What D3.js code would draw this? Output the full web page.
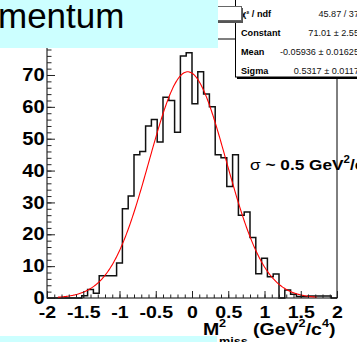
<!DOCTYPE html>
<html>
<head>
<meta charset="utf-8">
<script src="https://cdn.jsdelivr.net/npm/d3@7"></script>
<style>
  body { margin: 0; background: #fff; }
  svg { display: block; font-family: Arial, "Liberation Sans", Helvetica, sans-serif; }
</style>
</head>
<body>
<svg id="chart" width="357" height="342"></svg>
<script>
// histogram: 50 bins of 0.08 from -2 to 2
const binLow = -2;
const binWidth = 0.08;
const counts = [0, 0, 0, 0, 0, 0, 0.7, 2.7, 1.5, 7,
                7, 7, 11, 28, 32, 45, 46, 54, 56, 49,
                63, 62, 52, 76, 77, 61, 71, 64, 60, 45,
                44, 35, 45, 26, 27, 19, 7.6, 12.5, 6.7, 7.5,
                0, 2.5, 1.2, 0.5, 0.5, 0.6, 0.6, 0.6, 0.6, 0];

// gaussian fit, as given in the stats box
const fitConstant = 71.01;
const fitMean = -0.05936;
const fitSigma = 0.5317;
const fitRange = [-1.85, 1.72];

const statLabels = ['\u03c7\u00b2 / ndf', 'Constant', 'Mean', 'Sigma'];
const statValues = ['45.87 / 37', '71.01 \u00b1 2.55', '-0.05936 \u00b1 0.01625', '0.5317 \u00b1 0.0117'];

const xMajor = [-2, -1.5, -1, -0.5, 0, 0.5, 1, 1.5, 2];
const xLabels = ['-2', '-1.5', '-1', '-0.5', '0', '0.5', '1', '1.5', '2'];
const yMajor = [0, 10, 20, 30, 40, 50, 60, 70];

const svg = d3.select('#chart');
const stretch = 1.15;

const x = d3.scaleLinear().domain([-2, 2]).range([47, 337]);
const y = d3.scaleLinear().domain([0, 81.3]).range([298, 39]);

// frame
svg.append('rect')
  .attr('x', 47).attr('y', 39)
  .attr('width', 290).attr('height', 259)
  .attr('fill', 'none').attr('stroke', '#000').attr('stroke-width', 1);

// histogram outline
const pts = counts.map((c, i) => [binLow + i * binWidth, c]);
pts.push([binLow + counts.length * binWidth, counts[counts.length - 1]]);
const step = d3.line()
  .x(d => x(d[0]))
  .y(d => y(d[1]))
  .curve(d3.curveStepAfter);
svg.append('path')
  .attr('d', step(pts))
  .attr('fill', 'none')
  .attr('stroke', '#111')
  .attr('stroke-width', 1.5);

// fit curve
const gaus = v => fitConstant * Math.exp(-0.5 * Math.pow((v - fitMean) / fitSigma, 2));
const fitPts = d3.range(fitRange[0], fitRange[1] + 1e-9, 0.01).map(v => [v, gaus(v)]);
svg.append('path')
  .attr('d', d3.line().x(d => x(d[0])).y(d => y(d[1]))(fitPts))
  .attr('fill', 'none')
  .attr('stroke', '#ff0000')
  .attr('stroke-width', 1.1);

// x axis
const xMinor = svg.append('g')
  .attr('transform', 'translate(0,298)')
  .call(d3.axisBottom(x).tickValues(d3.range(-20, 21).map(d => d / 10)).tickSize(-3.5).tickFormat(''));
xMinor.select('.domain').remove();

const xAxis = svg.append('g')
  .attr('transform', 'translate(0,298)')
  .call(d3.axisBottom(x).tickValues(xMajor).tickSize(-7).tickPadding(8)
    .tickFormat((d, i) => xLabels[i]));
xAxis.select('.domain').remove();
xAxis.selectAll('text')
  .attr('font-size', 17).attr('font-weight', 'bold').attr('fill', '#000')
  .attr('transform', `scale(${stretch},1)`);

// y axis
const yMinor = svg.append('g')
  .attr('transform', 'translate(47,0)')
  .call(d3.axisLeft(y).tickValues(d3.range(0, 81, 2)).tickSize(-4.5).tickFormat(''));
yMinor.select('.domain').remove();

const yAxis = svg.append('g')
  .attr('transform', 'translate(47,0)')
  .call(d3.axisLeft(y).tickValues(yMajor).tickSize(-8).tickPadding(2));
yAxis.select('.domain').remove();
yAxis.selectAll('text')
  .attr('font-size', 17.5).attr('font-weight', 'bold').attr('fill', '#000')
  .attr('transform', `scale(${stretch},1)`);

svg.selectAll('.tick line').attr('stroke', '#222');

// axis title
const t = svg.append('g').attr('font-weight', 'bold').attr('fill', '#000');
t.append('text').attr('transform', `translate(203,335) scale(${stretch},1)`)
  .attr('font-size', 17).text('M');
t.append('text').attr('transform', `translate(219,327) scale(${stretch},1)`)
  .attr('font-size', 11).text('2');
t.append('text').attr('transform', `translate(219,345) scale(${stretch},1)`)
  .attr('font-size', 11).text('miss');
const unit = t.append('text').attr('transform', `translate(253,335) scale(${stretch},1)`)
  .attr('font-size', 17);
unit.append('tspan').text('(GeV');
unit.append('tspan').attr('font-size', 11).attr('dy', -8).text('2');
unit.append('tspan').attr('dy', 8).text('/c');
unit.append('tspan').attr('font-size', 11).attr('dy', -8).text('4');
unit.append('tspan').attr('dy', 8).text(')');

// sigma note
const note = svg.append('text')
  .attr('transform', `translate(250,170) scale(${stretch},1)`)
  .attr('font-size', 15).attr('fill', '#000');
note.append('tspan').text('\u03c3 ');
note.append('tspan').attr('font-weight', 'bold').text('~ 0.5 GeV');
note.append('tspan').attr('font-weight', 'bold').attr('font-size', 10).attr('dy', -7).text('2');
note.append('tspan').attr('font-weight', 'bold').attr('dy', 7).text('/c');
note.append('tspan').attr('font-weight', 'bold').attr('font-size', 10).attr('dy', -7).text('2');

// stats box
svg.append('rect').attr('x', 237).attr('y', 0).attr('width', 130).attr('height', 79).attr('fill', '#000');
svg.append('rect').attr('x', 235.5).attr('y', -2).attr('width', 130).attr('height', 79)
  .attr('fill', '#fff').attr('stroke', '#000').attr('stroke-width', 1);
const rowY = [17, 36, 55, 74];
statLabels.forEach((s, i) => {
  svg.append('text')
    .attr('transform', `translate(241,${rowY[i]}) scale(1.1,1)`)
    .attr('font-size', 8.3).attr('font-weight', 'bold').text(s);
  svg.append('text')
    .attr('transform', `translate(359,${rowY[i]}) scale(1.1,1)`)
    .attr('text-anchor', 'end')
    .attr('font-size', 8.3).attr('fill', '#111').text(statValues[i]);
});

// histogram title pave, mostly hidden
svg.append('rect').attr('x', 192).attr('y', 8).attr('width', 51).attr('height', 15).attr('fill', '#555');
svg.append('rect').attr('x', 190.5).attr('y', 6.5).attr('width', 51).attr('height', 14)
  .attr('fill', '#fff').attr('stroke', '#666').attr('stroke-width', 1);

// slide boxes
svg.append('rect').attr('x', 0).attr('y', 0).attr('width', 218).attr('height', 48).attr('fill', '#ccffff');
svg.append('text').attr('x', -2).attr('y', 28).attr('font-size', 35).attr('fill', '#000').text('mentum');
svg.append('rect').attr('x', 0).attr('y', 336).attr('width', 217).attr('height', 6).attr('fill', '#ccffff');
</script>
</body>
</html>
